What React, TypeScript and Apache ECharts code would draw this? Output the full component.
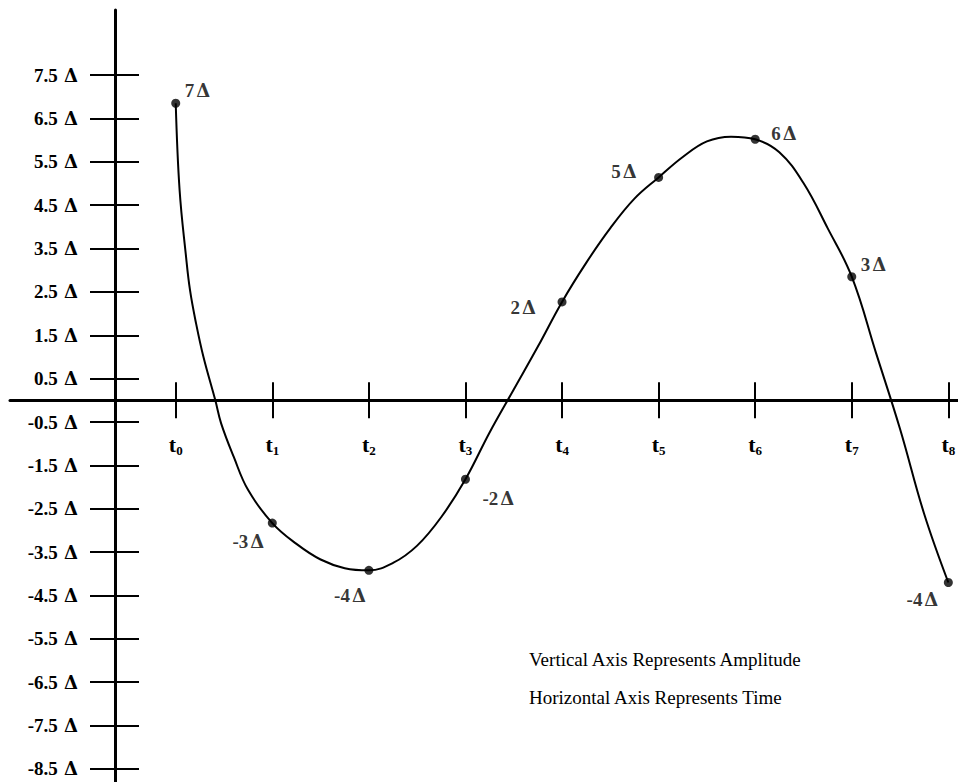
import React, { useEffect, useRef } from "react";
import * as echarts from "echarts";

// Sample instants t0..t8 and the amplitude of the signal at each one
const sampleTimes = [0, 1, 2, 3, 4, 5, 6, 7, 8];
const sampleValues = [6.85, -2.83, -3.92, -1.82, 2.27, 5.14, 6.02, 2.85, -4.2];
// Quantized level written next to each sample (in units of Δ)
const levelValues = [7, -3, -4, -2, 2, 5, 6, 3, -4];

// Continuous signal (time in sample units, amplitude in Δ)
const curveTimes = [0, 0.04, 0.107, 0.148, 0.21, 0.286, 0.41, 0.47, 0.6, 0.75, 1, 1.25, 1.5, 1.75, 2, 2.25, 2.5, 2.75, 3, 3.25, 3.5, 3.75, 4, 4.25, 4.5, 4.75, 5, 5.25, 5.5, 5.75, 6, 6.25, 6.5, 6.75, 7, 7.25, 7.5, 7.75, 8];
const curveValues = [6.85, 4.85, 3.31, 2.54, 1.78, 1.01, 0, -0.53, -1.3, -2.07, -2.83, -3.31, -3.67, -3.87, -3.92, -3.75, -3.35, -2.69, -1.82, -0.74, 0.25, 1.24, 2.27, 3.17, 3.97, 4.65, 5.14, 5.61, 5.97, 6.08, 6.02, 5.72, 5.01, 3.97, 2.85, 1.1, -0.66, -2.62, -4.2];

// Axis ticks
const amplitudeTicks = [7.5, 6.5, 5.5, 4.5, 3.5, 2.5, 1.5, 0.5, -0.5, -1.5, -2.5, -3.5, -4.5, -5.5, -6.5, -7.5, -8.5];
const timeTicks = [0, 1, 2, 3, 4, 5, 6, 7, 8];

const notes = ["Vertical Axis Represents Amplitude", "Horizontal Axis Represents Time"];

export default function App() {
  const ref = useRef<HTMLDivElement>(null);

  useEffect(() => {
    document.body.style.margin = "0";
    const chart = echarts.init(ref.current!, null, { renderer: "svg" });
    const serif = "'Liberation Serif', 'Times New Roman', serif";
    const deltaFont = "'DejaVu Serif', serif";
    const black = "#000";

    const labelPlacement: any[] = [
      { align: "left", offset: [9, -13] },
      { align: "right", offset: [-8, 18] },
      { align: "right", offset: [-3, 25] },
      { align: "left", offset: [17, 19] },
      { align: "right", offset: [-26, 6] },
      { align: "right", offset: [-22, -6] },
      { align: "left", offset: [16, -6] },
      { align: "left", offset: [9, -12] },
      { align: "right", offset: [-10, 17] },
    ];

    const xMin = -1.716;
    const xMax = 8.1;
    const yMin = -8.8;
    const yMax = 9;
    const gridTop = 10;
    const gridHeight = 772;
    // pixel distance from the grid bottom up to the zero line
    const zeroLift = (gridHeight * (0 - yMin)) / (yMax - yMin);

    const deltaRich = {
      n: { fontFamily: serif, fontSize: 19, fontWeight: "bold", color: black },
      d: { fontFamily: deltaFont, fontSize: 18, fontWeight: "bold", color: black, padding: [0, 0, 0, 3] },
      dt: { fontFamily: deltaFont, fontSize: 18, fontWeight: "bold", color: black, padding: [0, 0, 0, 2] },
    };

    const option: any = {
      animation: false,
      backgroundColor: "#fff",
      grid: { left: 10, top: gridTop, width: 948, height: gridHeight, containLabel: false, outerBoundsMode: "none" },
      xAxis: [
        {
          type: "value",
          min: xMin,
          max: xMax,
          position: "bottom",
          offset: -zeroLift,
          axisLine: { onZero: false, lineStyle: { color: black, width: 3 } },
          axisTick: { show: true, customValues: timeTicks, inside: true, length: 18, lineStyle: { color: black, width: 2 } },
          axisLabel: {
            customValues: timeTicks,
            margin: 32,
            formatter: (v: number) => `{t|t}{s|${v}}`,
            rich: {
              t: { fontFamily: serif, fontSize: 22, fontWeight: "bold", color: black },
              s: { fontFamily: serif, fontSize: 13, fontWeight: "bold", color: black, padding: [12, 0, 0, 0] },
            },
          },
          splitLine: { show: false },
        },
        {
          type: "value",
          min: xMin,
          max: xMax,
          position: "bottom",
          offset: -zeroLift,
          axisLine: { show: false, onZero: false },
          axisTick: { show: true, customValues: timeTicks, inside: false, length: 18, lineStyle: { color: black, width: 2 } },
          axisLabel: { show: false },
          splitLine: { show: false },
        },
      ],
      yAxis: [
        {
          type: "value",
          min: yMin,
          max: yMax,
          position: "left",
          offset: -105,
          axisLine: { show: true, onZero: false, lineStyle: { color: black, width: 3 } },
          axisTick: { show: true, customValues: amplitudeTicks, inside: false, length: 25, lineStyle: { color: black, width: 2 } },
          axisLabel: {
            customValues: amplitudeTicks,
            margin: 37,
            formatter: (v: number) => `{n|${v}} {d|Δ}`,
            rich: deltaRich,
          },
          splitLine: { show: false },
        },
        {
          type: "value",
          min: yMin,
          max: yMax,
          position: "left",
          offset: -105,
          axisLine: { show: false, onZero: false },
          axisTick: { show: true, customValues: amplitudeTicks, inside: true, length: 24, lineStyle: { color: black, width: 2 } },
          axisLabel: { show: false },
          splitLine: { show: false },
        },
      ],
      graphic: notes.map((text, i) => ({
        type: "text",
        left: 529,
        top: 650 + i * 38,
        style: { text, fontFamily: serif, fontSize: 19, fill: black },
      })),
      series: [
        {
          type: "line",
          xAxisIndex: 0,
          yAxisIndex: 0,
          data: curveTimes.map((t, i) => [t, curveValues[i]]),
          smooth: 0.4,
          showSymbol: false,
          symbol: "none",
          lineStyle: { color: black, width: 2 },
          z: 3,
        },
        {
          type: "scatter",
          xAxisIndex: 0,
          yAxisIndex: 0,
          symbolSize: 9,
          itemStyle: { color: black },
          z: 4,
          data: sampleTimes.map((t, i) => ({
            value: [t, sampleValues[i]],
            label: {
              show: true,
              position: "inside",
              verticalAlign: "middle",
              align: labelPlacement[i].align,
              offset: labelPlacement[i].offset,
            },
          })),
          label: {
            show: true,
            formatter: (p: any) => `{n|${levelValues[p.dataIndex]}}{dt|Δ}`,
            rich: deltaRich,
          },
        },
      ],
    };

    chart.setOption(option);
    return () => chart.dispose();
  }, []);

  return <div ref={ref} style={{ width: 958, height: 782 }} />;
}
